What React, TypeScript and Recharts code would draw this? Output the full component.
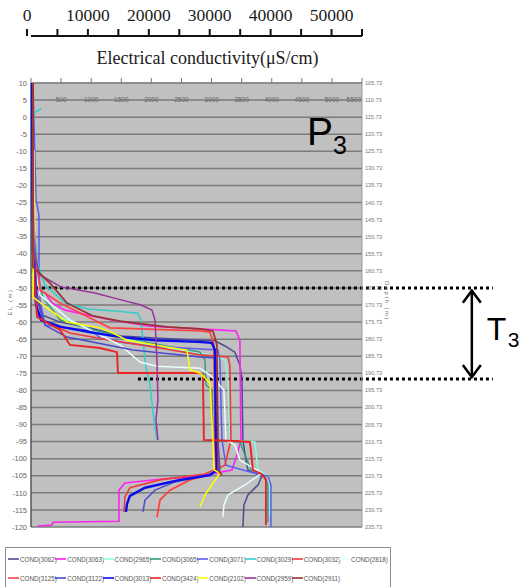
import React from 'react';
import {
  ScatterChart,
  Scatter,
  XAxis,
  YAxis,
  CartesianGrid,
  ReferenceLine,
  ReferenceDot,
  Legend,
} from 'recharts';

// Each profile: [conductivity (inner axis units), elevation (m)], listed top to bottom.
type Pt = [number, number];

const cond3062: Pt[] = [[0, 10], [17, -24.3], [33, -36], [83, -50.6], [183, -57.9], [482, -60], [980, -61.7], [1495, -64.1], [2143, -64.7], [2807, -65.3], [3056, -65.5], [3222, -67], [3388, -68.8], [3471, -72.6], [3505, -76.4], [3521, -94.5], [3571, -100.4], [3604, -103.3], [3837, -105.1], [3771, -107.7], [3604, -110.6], [3538, -113.6], [3521, -120]];
const cond3063: Pt[] = [[33, 5], [50, -38.9], [66, -50.6], [233, -51.5], [349, -54.4], [565, -56.5], [1329, -59.4], [1977, -61.2], [2807, -62], [3405, -62.6], [3471, -65.3], [3488, -94.5], [3422, -98.9], [3339, -103.3], [2807, -105.1], [2143, -106], [1561, -107.1], [1462, -109.2], [1462, -118.3], [366, -118.6], [349, -119.4], [116, -119.7]];
const cond2965: Pt[] = [[33, 10], [50, -36], [116, -49.1], [399, -57.9], [1146, -63.2], [2143, -67.3], [2973, -69.6], [3222, -71.1], [3272, -76.4], [3305, -94.5], [3721, -95.1], [3771, -103.3], [3937, -105.1], [3970, -109.2], [3970, -116.5]];
const cond3065: Pt[] = [[17, 10], [50, -41.8], [199, -52.7], [482, -59.4], [1030, -62.3], [1977, -66.1], [2807, -68.8], [2890, -71.1], [2907, -78.4], [3006, -79.9], [3023, -94.5], [3471, -95.1], [3671, -103.9], [3887, -105.1], [3937, -107.7], [3937, -118.6]];
const cond3071: Pt[] = [[33, 10], [83, -24.3], [133, -28.7], [133, -42.4], [150, -53.5], [233, -60.9], [1030, -62.6], [1146, -64.7], [1478, -65.8], [1977, -67], [2807, -67.9], [3106, -68.2], [3139, -71.1], [3173, -94.5], [3239, -101.9], [3638, -103.9], [3937, -105.1], [3987, -107.7], [3987, -120]];
const cond3029: Pt[] = [[170, 2.5], [40, 1], [33, -9.6], [50, -33], [116, -43.3], [233, -49.1], [565, -54.4], [947, -56.2], [1445, -56.8], [1777, -57.4], [1827, -59.4], [1860, -65.3], [1910, -73.2], [1977, -78.4], [2043, -88.7], [2093, -94.5]];
const cond3032: Pt[] = [[33, -0.8], [50, -41.8], [100, -56.5], [233, -60], [648, -63.2], [1312, -65.3], [2143, -67.6], [2807, -69.6], [3272, -70.2], [3305, -72.6], [3322, -94.5], [3222, -101.9], [2890, -104.5], [2143, -106.2], [1644, -108.5], [1561, -111.2], [1545, -115.6]];
const cond2818: Pt[] = [[50, -9.6], [66, -41.8], [150, -52.1], [648, -59.4], [1478, -66.7], [1810, -71.7], [2093, -72.9], [2807, -73.5], [2973, -75.5], [3206, -79.9], [3239, -94.5], [3388, -96], [3471, -100.4], [3837, -104.2], [3555, -107.7], [3272, -110.6], [3206, -113.6], [3189, -117.1]];
const cond3125: Pt[] = [[33, 10], [33, -24.3], [66, -38.9], [150, -50.6], [482, -54.4], [1312, -61.7], [2807, -62.6], [2973, -62.9], [3040, -66.7], [3056, -94.5], [3073, -103.3], [3006, -104.5], [2641, -106.2], [2309, -109.2], [2143, -112.1], [2093, -117.1]];
const cond3122: Pt[] = [[33, 10], [50, -33], [100, -53.5], [233, -60.9], [598, -64.4], [1694, -68.2], [2807, -70.2], [3056, -70.5], [3089, -72.6], [3106, -94.5], [3139, -103.3], [2890, -105.1], [2392, -106.8], [2060, -109.2], [1894, -112.1], [1860, -115.6]];
const cond3013: Pt[] = [[17, 10], [33, -38.9], [83, -55], [166, -59.4], [498, -61.4], [1063, -63.2], [1495, -64.4], [2060, -65.3], [2774, -65.8], [3006, -66.1], [3056, -68.2], [3073, -94.5], [3089, -103.3], [2973, -104.8], [2475, -106.2], [1894, -108.5], [1644, -110.9], [1595, -113.3], [1578, -115.6]];
const cond3424: Pt[] = [[33, 10], [33, -41.8], [100, -58.5], [482, -62.3], [648, -66.7], [1146, -67.6], [1428, -68.8], [1445, -74.9], [2807, -74.9], [2857, -75.5], [2873, -94.5], [3422, -94.8], [3638, -95.1], [3688, -103.3], [3837, -104.5], [3903, -106.2], [3903, -119.4]];
const cond2102: Pt[] = [[33, 0], [50, -24.3], [33, -52.7], [316, -56.5], [598, -60], [1146, -61.7], [1362, -63.2], [1595, -65.3], [2259, -67.3], [2591, -68.2], [2641, -74], [2807, -74.9], [2973, -77.8], [3023, -94.5], [3040, -103.3], [3139, -104.2], [3006, -107.7], [2890, -110.6], [2807, -114.2]];
const cond2959: Pt[] = [[33, 10], [33, -38.9], [150, -46.2], [498, -49.7], [1063, -51.5], [1495, -53.5], [1827, -55], [2010, -56.5], [2060, -59.4], [2093, -71.1], [2109, -82.8], [2076, -88.7], [2109, -94.5]];
const cond2911: Pt[] = [[33, 10], [33, -43.9], [316, -48.6], [598, -54.4], [1030, -58.2], [1478, -59.7], [2259, -61.4], [2807, -62], [3023, -62.6], [3089, -66.7], [3106, -103.3], [3173, -104.8]];

const seriesNames = [
  'COND(3062)', 'COND(3063)', 'COND(2965)', 'COND(3065)', 'COND(3071)', 'COND(3029)', 'COND(3032)', 'COND(2818)',
  'COND(3125)', 'COND(3122)', 'COND(3013)', 'COND(3424)', 'COND(2102)', 'COND(2959)', 'COND(2911)',
];
const seriesData: Pt[][] = [
  cond3062, cond3063, cond2965, cond3065, cond3071, cond3029, cond3032, cond2818,
  cond3125, cond3122, cond3013, cond3424, cond2102, cond2959, cond2911,
];
const seriesColors = [
  '#4b4b8f', '#ff22ee', '#88ffdd', '#2e9a7e', '#5b5bf0', '#33cccc', '#f03a3a', '#e8ffff',
  '#ff4444', '#4a4acc', '#0a0aee', '#e82424', '#ffff00', '#993399', '#993333',
];
const seriesWidths = [1.5, 1.6, 1.4, 1.4, 1.5, 1.5, 1.6, 1.5, 1.8, 1.5, 2.4, 1.9, 1.5, 1.5, 1.7];

// Axis ticks
const elevTicks = [10, 5, 0, -5, -10, -15, -20, -25, -30, -35, -40, -45, -50, -55, -60, -65, -70, -75, -80, -85, -90, -95, -100, -105, -110, -115, -120];
const ecTicks = [0, 500, 1000, 1500, 2000, 2500, 3000, 3500, 4000, 4500, 5000, 5500];
const scaleTicks = [0, 5000, 10000, 15000, 20000, 25000, 30000, 35000, 40000, 45000, 50000, 55000];
const datumOffset = 115.73;

// Annotations (data units)
const zoneTop = -50;
const zoneBottom = -76.7;
const profileTag = { ec: 4585, elev: -8.2 };

const W = 525;
const H = 587;

const rows = seriesData.map((pts, i) => ({
  name: seriesNames[i],
  color: seriesColors[i],
  width: seriesWidths[i],
  data: pts.map(([ec, elev]) => ({ ec, elev })),
}));

const NoPoint = () => null;

const EcTick = (props: any) => {
  const { x, y, payload } = props;
  if (payload.value === 0) return null;
  const last = payload.value === ecTicks[ecTicks.length - 1];
  return (
    <text
      x={last ? x - 1 : x}
      y={y + 26}
      textAnchor={last ? 'end' : 'middle'}
      fontSize={6.5}
      fontFamily="Liberation Sans"
      fill="#666"
    >
      {payload.value}
    </text>
  );
};

const ScaleTick = (props: any) => {
  const { x, y, payload } = props;
  if (payload.value % 10000 !== 0) return null;
  return (
    <text x={x} y={y} textAnchor="middle" fontSize={17.5} fontFamily="Liberation Serif" fill="#1a1a1a">
      {payload.value}
    </text>
  );
};

const TitleLabel = (props: any) => {
  const vb = props.viewBox;
  return (
    <text x={vb.x + vb.width / 2 + 11} y={vb.y + 28} textAnchor="middle" fontSize={18} fontFamily="Liberation Serif" fill="#1a1a1a">
      Electrical conductivity(μS/cm)
    </text>
  );
};

const LeftAxisLabel = (props: any) => {
  const vb = props.viewBox;
  const cx = vb.x + 12;
  const cy = vb.y + 219;
  return (
    <text x={cx} y={cy} transform={`rotate(-90, ${cx}, ${cy})`} textAnchor="middle" fontSize={6} fontFamily="Liberation Sans" fill="#777" letterSpacing={1.5}>
      EL (m)
    </text>
  );
};

const RightAxisLabel = (props: any) => {
  const vb = props.viewBox;
  const cx = vb.x + 23;
  const cy = vb.y + 218;
  return (
    <text x={cx} y={cy} transform={`rotate(90, ${cx}, ${cy})`} textAnchor="middle" fontSize={6} fontFamily="Liberation Sans" fill="#777" letterSpacing={1.5}>
      Depth (m)
    </text>
  );
};

const ZoneArrow = (props: any) => {
  const { x1, y1, x2, y2 } = props;
  const mid = (y1 + y2) / 2;
  return (
    <g>
      <line x1={x1} y1={y1 + 1} x2={x2} y2={y2 - 1} stroke="#000" strokeWidth={2.5} />
      <polyline points={`${x1 - 9},${y1 + 13} ${x1},${y1 + 1} ${x1 + 9},${y1 + 13}`} fill="none" stroke="#000" strokeWidth={2.5} />
      <polyline points={`${x2 - 9},${y2 - 13} ${x2},${y2 - 1} ${x2 + 9},${y2 - 13}`} fill="none" stroke="#000" strokeWidth={2.5} />
      <text x={x1 + 15} y={mid + 6.5} fontSize={32} fontFamily="Liberation Sans" fill="#000">T</text>
      <text x={x1 + 36} y={mid + 13.5} fontSize={21} fontFamily="Liberation Sans" fill="#000">3</text>
    </g>
  );
};

const ProfileTag = (props: any) => {
  const { cx, cy } = props;
  return (
    <g>
      <text x={cx} y={cy} fontSize={39} fontFamily="Liberation Sans" fill="#000">P</text>
      <text x={cx + 26} y={cy + 8.5} fontSize={25} fontFamily="Liberation Sans" fill="#000">3</text>
    </g>
  );
};

const LegendBox = (props: any) => {
  const payload: any[] = props.payload || [];
  const ordered = [...payload].sort(
    (a, b) => seriesNames.indexOf(a.value) - seriesNames.indexOf(b.value)
  );
  return (
    <div
      style={{
        position: 'relative',
        width: 386,
        height: 42,
        border: '1px solid #8c8c8c',
        boxSizing: 'border-box',
        background: '#fff',
      }}
    >
      {ordered.map((entry, i) => {
        const col = i % 8;
        const row = Math.floor(i / 8);
        return (
          <div
            key={entry.value}
            style={{
              position: 'absolute',
              left: 2 + col * 47.3,
              top: 6 + row * 19,
              height: 10,
              display: 'flex',
              alignItems: 'center',
              whiteSpace: 'nowrap',
            }}
          >
            <svg width={11} height={4} style={{ display: 'block' }}>
              <line x1={0} y1={2} x2={11} y2={2} stroke={entry.color} strokeWidth={1.6} />
            </svg>
            <span style={{ fontSize: 6.3, fontFamily: 'Liberation Sans', color: '#555', marginLeft: 1 }}>
              {entry.value}
            </span>
          </div>
        );
      })}
    </div>
  );
};

export default function App() {
  return (
    <div style={{ position: 'absolute', left: 0, top: 0, width: W, height: H }}>
      <ScatterChart width={W} height={H} margin={{ top: 0, right: 0, bottom: 60, left: 0 }}>
        <CartesianGrid
          xAxisId="ec"
          yAxisId="elev"
          vertical={false}
          fill="#c0c0c0"
          fillOpacity={1}
          stroke="#7b7b7b"
          strokeWidth={1.5}
        />
        <XAxis
          xAxisId="ec"
          dataKey="ec"
          type="number"
          orientation="top"
          domain={[0, 5500]}
          ticks={ecTicks}
          interval={0}
          height={47}
          allowDataOverflow
          tickSize={5}
          tickMargin={2}
          tick={EcTick}
          tickLine={{ stroke: '#777' }}
          axisLine={{ stroke: '#888' }}
          label={TitleLabel}
        />
        <XAxis
          xAxisId="scale"
          dataKey="ec"
          type="number"
          orientation="top"
          domain={[0, 55000]}
          ticks={scaleTicks}
          interval={0}
          height={36}
          allowDataOverflow
          padding={{ left: -4, right: 0 }}
          tickSize={7}
          tickMargin={8.5}
          tick={ScaleTick}
          tickLine={{ stroke: '#111', strokeWidth: 2 }}
          axisLine={{ stroke: '#111', strokeWidth: 2 }}
        />
        <YAxis
          yAxisId="elev"
          dataKey="elev"
          type="number"
          domain={[-120, 10]}
          ticks={elevTicks}
          interval={0}
          width={31}
          allowDataOverflow
          tickSize={0}
          tickMargin={4}
          tickLine={false}
          tick={{ fontSize: 7.5, fill: '#666', fontFamily: 'Liberation Sans' }}
          axisLine={{ stroke: '#555', strokeWidth: 1.5 }}
          label={LeftAxisLabel}
        />
        <YAxis
          yAxisId="depth"
          orientation="right"
          type="number"
          domain={[-120, 10]}
          ticks={elevTicks}
          interval={0}
          width={163}
          allowDataOverflow
          tickSize={0}
          tickMargin={3}
          tickLine={false}
          tickFormatter={(v: number) => (datumOffset - v).toFixed(2)}
          tick={{ fontSize: 5.6, fill: '#777', fontFamily: 'Liberation Sans', textAnchor: 'start' }}
          axisLine={{ stroke: '#999', strokeWidth: 1 }}
          label={RightAxisLabel}
        />
        {rows.map((s) => (
          <Scatter
            key={s.name}
            name={s.name}
            data={s.data}
            xAxisId="ec"
            yAxisId="elev"
            fill={s.color}
            line={{ stroke: s.color, strokeWidth: s.width }}
            shape={NoPoint}
            legendType="line"
            isAnimationActive={false}
          />
        ))}
        <ReferenceLine
          xAxisId="ec"
          yAxisId="elev"
          segment={[{ x: 83, y: zoneTop }, { x: 7674, y: zoneTop }]}
          stroke="#000"
          strokeWidth={3}
          strokeDasharray="3 3"
          ifOverflow="visible"
        />
        <ReferenceLine
          xAxisId="ec"
          yAxisId="elev"
          segment={[{ x: 1777, y: zoneBottom }, { x: 7674, y: zoneBottom }]}
          stroke="#000"
          strokeWidth={3}
          strokeDasharray="3 3"
          ifOverflow="visible"
        />
        <ReferenceLine
          xAxisId="ec"
          yAxisId="elev"
          segment={[{ x: 7325, y: zoneTop - 0.5 }, { x: 7325, y: zoneBottom + 0.3 }]}
          ifOverflow="visible"
          shape={ZoneArrow}
        />
        <ReferenceDot
          xAxisId="ec"
          yAxisId="elev"
          x={profileTag.ec}
          y={profileTag.elev}
          r={0}
          ifOverflow="visible"
          shape={ProfileTag}
        />
        <Legend
          layout="horizontal"
          verticalAlign="middle"
          align="center"
          wrapperStyle={{ left: 5, top: 547, width: 386, height: 42 }}
          content={LegendBox}
        />
      </ScatterChart>
    </div>
  );
}
